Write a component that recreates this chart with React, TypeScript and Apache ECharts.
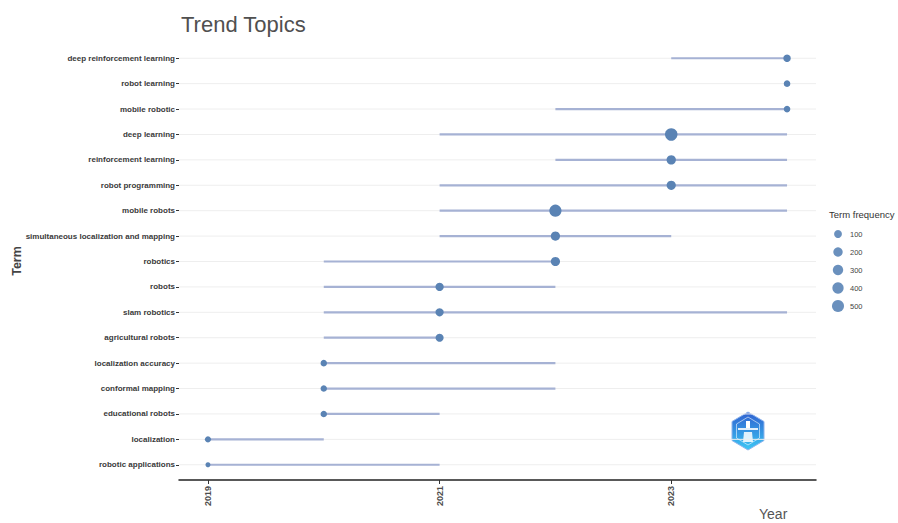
import React, { useEffect, useRef } from "react";
import * as echarts from "echarts";

const terms = [
  "deep reinforcement learning",
  "robot learning",
  "mobile robotic",
  "deep learning",
  "reinforcement learning",
  "robot programming",
  "mobile robots",
  "simultaneous localization and mapping",
  "robotics",
  "robots",
  "slam robotics",
  "agricultural robots",
  "localization accuracy",
  "conformal mapping",
  "educational robots",
  "localization",
  "robotic applications",
];
const yearQ1 = [2023, 2024, 2022, 2021, 2022, 2021, 2021, 2021, 2020, 2020, 2020, 2020, 2020, 2020, 2020, 2019, 2019];
const yearMedian = [2024, 2024, 2024, 2023, 2023, 2023, 2022, 2022, 2022, 2021, 2021, 2021, 2020, 2020, 2020, 2019, 2019];
const yearQ3 = [2024, 2024, 2024, 2024, 2024, 2024, 2024, 2023, 2022, 2022, 2024, 2021, 2022, 2022, 2021, 2020, 2021];
const frequency = [80, 45, 45, 560, 200, 190, 520, 190, 190, 120, 115, 110, 40, 40, 40, 35, 20];
const yearTicks = [2019, 2021, 2023];
const legendValues = [100, 200, 300, 400, 500];

const FONT = "'Liberation Sans', Arial, sans-serif";
const fMin = Math.min(...frequency);
const fMax = Math.max(...frequency);
const diam = (f: number) => {
  const t = Math.max(0, Math.min(1, (f - fMin) / (fMax - fMin)));
  return 5 + 7.5 * Math.sqrt(t);
};

export default function App() {
  const ref = useRef<HTMLDivElement>(null);
  useEffect(() => {
    document.body.style.margin = "0";
    const chart = echarts.init(ref.current!, null, { renderer: "svg" });
    const n = terms.length;
    const legendY = [234, 252, 270, 288, 306];
    const option: any = {
      animation: false,
      backgroundColor: "#ffffff",
      textStyle: { fontFamily: FONT },
      title: {
        text: "Trend Topics",
        left: 176,
        top: 8,
        textStyle: { fontSize: 22, fontWeight: "normal", color: "#505050", fontFamily: FONT },
      },
      grid: { left: 179, right: 82, top: 43, bottom: 43, containLabel: false },
      xAxis: {
        type: "value",
        position: "bottom",
        min: 2018.75,
        max: 2024.25,
        axisLine: { show: true, onZero: false, lineStyle: { color: "#222", width: 1.5 } },
        axisTick: { show: true, customValues: yearTicks, length: 4, lineStyle: { color: "#333" } },
        axisLabel: {
          customValues: yearTicks,
          formatter: (v: number) => String(Math.round(v)),
          rotate: 90,
          fontSize: 9,
          fontWeight: "bold",
          color: "#4d4d4d",
          margin: 6,
          fontFamily: FONT,
        },
        splitLine: { show: false },
        minorSplitLine: { show: false },
      },
      yAxis: {
        type: "value",
        inverse: true,
        min: -0.6,
        max: n - 1 + 0.6,
        axisLine: { show: false, onZero: false },
        axisTick: {
          show: true,
          customValues: terms.map((_, i) => i),
          length: 3,
          lineStyle: { color: "#333" },
        },
        axisLabel: {
          customValues: terms.map((_, i) => i),
          formatter: (v: number) => terms[Math.round(v)] ?? "",
          fontSize: 8,
          fontWeight: "bold",
          color: "#3a3a3a",
          margin: 4,
          fontFamily: FONT,
        },
        splitLine: { show: false },
      },
      series: [
        {
          type: "custom",
          name: "grid",
          silent: true,
          data: terms.map((_, i) => [i]),
          encode: { y: 0 },
          renderItem: (params: any, api: any) => {
            const y = api.value(0);
            const p1 = api.coord([2018.75, y]);
            const p2 = api.coord([2024.25, y]);
            return {
              type: "line",
              shape: { x1: p1[0], y1: p1[1], x2: p2[0], y2: p2[1] },
              style: { stroke: "#eeeeee", lineWidth: 1 },
            };
          },
          z: 1,
        },
        {
          type: "custom",
          name: "range",
          silent: true,
          data: terms.map((_, i) => [yearQ1[i], i, yearQ3[i]]),
          encode: { x: [0, 2], y: 1 },
          renderItem: (params: any, api: any) => {
            const y = api.value(1);
            const p1 = api.coord([api.value(0), y]);
            const p2 = api.coord([api.value(2), y]);
            return {
              type: "line",
              shape: { x1: p1[0], y1: p1[1], x2: p2[0], y2: p2[1] },
              style: { stroke: "#a6b2d4", lineWidth: 2.2 },
            };
          },
          z: 2,
        },
        {
          type: "scatter",
          name: "Term frequency",
          data: terms.map((_, i) => [yearMedian[i], i, frequency[i]]),
          symbolSize: (v: number[]) => diam(v[2]),
          itemStyle: { color: "#5a83b4", opacity: 1 },
          z: 3,
        },
      ],
      graphic: [
        {
          type: "text",
          x: 17,
          y: 261,
          rotation: Math.PI / 2,
          style: {
            text: "Term",
            fontSize: 12.5,
            fontWeight: "bold",
            fill: "#444",
            fontFamily: FONT,
            align: "center",
            verticalAlign: "middle",
          },
        },
        {
          type: "text",
          left: 759,
          top: 507,
          style: { text: "Year", fontSize: 14, fill: "#555", fontFamily: FONT },
        },
        {
          type: "text",
          left: 829,
          top: 209,
          style: { text: "Term frequency", fontSize: 9.5, fill: "#333", fontFamily: FONT },
        },
        ...legendValues.map((v, k) => ({
          type: "circle",
          shape: { cx: 838, cy: legendY[k], r: diam(v) / 2 },
          style: { fill: "#6a90bd" },
        })),
        ...legendValues.map((v, k) => ({
          type: "text",
          x: 850,
          y: legendY[k],
          style: {
            text: String(v),
            fontSize: 7.5,
            fill: "#444",
            fontFamily: FONT,
            verticalAlign: "middle",
          },
        })),
        {
          type: "polygon",
          shape: {
            points: [
              [748, 412],
              [764, 421.5],
              [764, 440.5],
              [748, 450],
              [732, 440.5],
              [732, 421.5],
            ],
          },
          style: {
            fill: new echarts.graphic.LinearGradient(0, 0, 0, 1, [
              { offset: 0, color: "#2f5fd0" },
              { offset: 1, color: "#3cc8f4" },
            ]),
            stroke: "#8fb4ec",
            lineWidth: 1,
          },
        },
        {
          type: "polygon",
          shape: {
            points: [
              [748, 417],
              [759.5, 424],
              [759.5, 438],
              [748, 445],
              [736.5, 438],
              [736.5, 424],
            ],
          },
          style: { fill: "none", stroke: "#ffffff", lineWidth: 0.8, opacity: 0.7 },
        },
        {
          type: "rect",
          shape: { x: 746, y: 421, width: 4, height: 7 },
          style: { fill: "#ffffff" },
        },
        {
          type: "rect",
          shape: { x: 738, y: 428, width: 20, height: 2 },
          style: { fill: "#ffffff", opacity: 0.85 },
        },
        {
          type: "polygon",
          shape: { points: [[744, 432], [752, 432], [753, 442], [743, 442]] },
          style: { fill: "#ffffff", opacity: 0.85 },
        },
      ],
    };
    chart.setOption(option);
    return () => chart.dispose();
  }, []);
  return <div ref={ref} style={{ width: 898, height: 523 }} />;
}
